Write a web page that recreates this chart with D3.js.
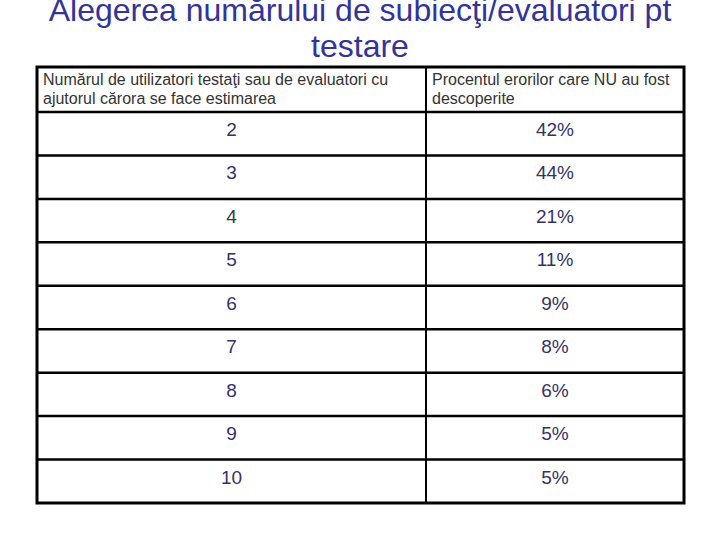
<!DOCTYPE html>
<html>
<head>
<meta charset="utf-8">
<script src="https://cdn.jsdelivr.net/npm/d3@7"></script>
<style>
  html, body { margin: 0; padding: 0; background: #fff; }
</style>
</head>
<body>
<script>
// date tabel
const titlu = ["Alegerea numărului de subiecţi/evaluatori pt", "testare"];
const antetCol1 = ["Numărul de utilizatori testaţi sau de evaluatori cu", "ajutorul cărora se face estimarea"];
const antetCol2 = ["Procentul erorilor care NU au fost", "descoperite"];
const utilizatori = [2, 3, 4, 5, 6, 7, 8, 9, 10];
const procente = [42, 44, 21, 11, 9, 8, 6, 5, 5];

const W = 720, H = 540;
const font = "'Liberation Sans', Arial, sans-serif";

var svg = d3.select("body").append("svg")
  .attr("width", W)
  .attr("height", H);

// titlu (prima linie e taiata sus, ca in original)
svg.append("g").selectAll("text")
  .data(titlu)
  .enter()
  .append("text")
  .attr("x", 360)
  .attr("y", (d, i) => 21 + i * 36)
  .attr("text-anchor", "middle")
  .attr("font-family", font)
  .attr("font-size", 32)
  .attr("fill", "#333399")
  .text(d => d);

// scale pentru tabel
const sus = 67, headH = 45, jos = 503;
const x = d3.scaleOrdinal().domain(["st", "mij", "dr"]).range([37, 426, 684]);
const y = d3.scaleBand().domain(utilizatori).range([sus + headH, jos]);

const tabel = svg.append("g");

// antet
const antet = [antetCol1, antetCol2];
antet.forEach((linii, c) => {
  tabel.append("g").selectAll("text")
    .data(linii)
    .enter()
    .append("text")
    .attr("x", (c == 0 ? x("st") : x("mij")) + 6)
    .attr("y", (d, i) => sus + 18 + i * 19)
    .attr("font-family", font)
    .attr("font-size", 16)
    .attr("fill", "#333333")
    .text(d => d);
});

// randuri
const randuri = tabel.selectAll("g.rand")
  .data(utilizatori)
  .enter()
  .append("g")
  .attr("class", "rand");

randuri.append("text")
  .attr("x", (x("st") + x("mij")) / 2)
  .attr("y", d => y(d) + 24)
  .attr("text-anchor", "middle")
  .attr("font-family", font)
  .attr("font-size", 19)
  .attr("fill", "#333366")
  .text(d => d);

randuri.append("text")
  .attr("x", (x("mij") + x("dr")) / 2)
  .attr("y", (d, i) => y(d) + 24)
  .attr("text-anchor", "middle")
  .attr("font-family", font)
  .attr("font-size", 19)
  .attr("fill", "#333366")
  .text((d, i) => procente[i] + "%");

// linii orizontale
tabel.selectAll("line.oriz")
  .data(utilizatori)
  .enter()
  .append("line")
  .attr("class", "oriz")
  .attr("x1", x("st"))
  .attr("x2", x("dr"))
  .attr("y1", d => y(d))
  .attr("y2", d => y(d))
  .attr("stroke", "#000")
  .attr("stroke-width", 2.5);

// linie verticala
tabel.append("line")
  .attr("x1", x("mij"))
  .attr("x2", x("mij"))
  .attr("y1", sus)
  .attr("y2", jos)
  .attr("stroke", "#000")
  .attr("stroke-width", 2);

// chenar
tabel.append("rect")
  .attr("x", x("st"))
  .attr("y", sus)
  .attr("width", x("dr") - x("st"))
  .attr("height", jos - sus)
  .attr("fill", "none")
  .attr("stroke", "#000")
  .attr("stroke-width", 3);
</script>
</body>
</html>
